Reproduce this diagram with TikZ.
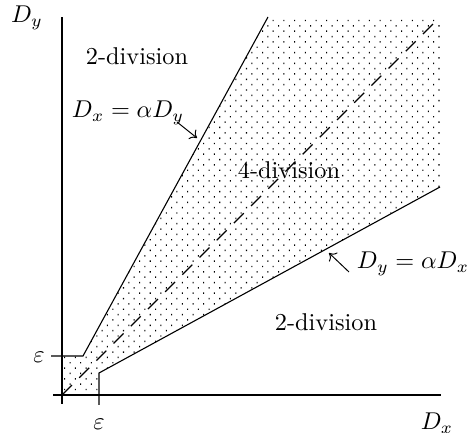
\documentclass[tikz,border=0pt]{standalone}
\usetikzlibrary{patterns,arrows.meta}
\pgfdeclarepatternformonly{sparsedots}{\pgfqpoint{-0.5pt}{-0.5pt}}{\pgfqpoint{4.9pt}{4.9pt}}{\pgfqpoint{4.4pt}{4.4pt}}{%
  \pgfpathrectangle{\pgfqpoint{0pt}{0pt}}{\pgfqpoint{0.42pt}{0.6pt}}%
  \pgfpathrectangle{\pgfqpoint{2.2pt}{2.2pt}}{\pgfqpoint{0.42pt}{0.6pt}}%
  \pgfusepath{fill}}
\tikzset{
  axis/.style={line width=0.85pt},
  bound/.style={line width=0.45pt},
  diag/.style={line width=0.45pt, dash pattern=on 5.8pt off 4.2pt},
  pointer/.style={line width=0.4pt, -{To[length=2.6pt,width=5pt]}},
  lbl/.style={inner sep=0pt, anchor=center},
}
\begin{document}
\begin{tikzpicture}[x=0.4114pt, y=-0.4114pt]
\useasboundingbox (0,0) rectangle (469,433);
% key points
\coordinate (O) at (62,395);
\coordinate (ytop) at (62,17);
\coordinate (ybot) at (62,404);
\coordinate (xleft) at (53,395);
\coordinate (xright) at (441,395);
\coordinate (ueps0) at (51,356);
\coordinate (ueps1) at (83,356);
\coordinate (utop) at (268,17);
\coordinate (leps0) at (99,405);
\coordinate (leps1) at (99,373);
\coordinate (lend) at (440,187);
\coordinate (tr) at (440,17);
\coordinate (bcorner) at (99,395);
\coordinate (lcorner) at (62,356);
% shaded region
\fill[pattern=sparsedots] (O) -- (bcorner) -- (leps1) -- (lend) -- (tr) -- (utop) -- (ueps1) -- (lcorner) -- cycle;
% axes
\draw[axis] (ybot) -- (ytop);
\draw[axis] (xleft) -- (xright);
% boundaries
\draw[bound] (ueps0) -- (ueps1) -- (utop);
\draw[bound] (leps0) -- (leps1) -- (lend);
\draw[diag] (O) -- (tr);
% labels
\node[lbl] (Dy) at (27,18) {$D_y$};
\node[lbl] (Dx) at (437,423) {$D_x$};
\node[lbl] (epsy) at (39,357) {$\varepsilon$};
\node[lbl] (epsx) at (99,424) {$\varepsilon$};
\node[lbl] (two1) at (137,56) {2-division};
\node[lbl] (four) at (289,170) {4-division};
\node[lbl] (two2) at (326,322) {2-division};
\node[lbl] (eq1) at (128,113) {$D_x = \alpha D_y$};
\node[lbl] (eq2) at (413,264) {$D_y = \alpha D_x$};
% pointers
\coordinate (a1s) at (177,122);
\coordinate (a1e) at (197,138);
\coordinate (a2s) at (349,272);
\coordinate (a2e) at (329,253);
\draw[pointer] (a1s) -- (a1e);
\draw[pointer] (a2s) -- (a2e);
\end{tikzpicture}
\end{document}
